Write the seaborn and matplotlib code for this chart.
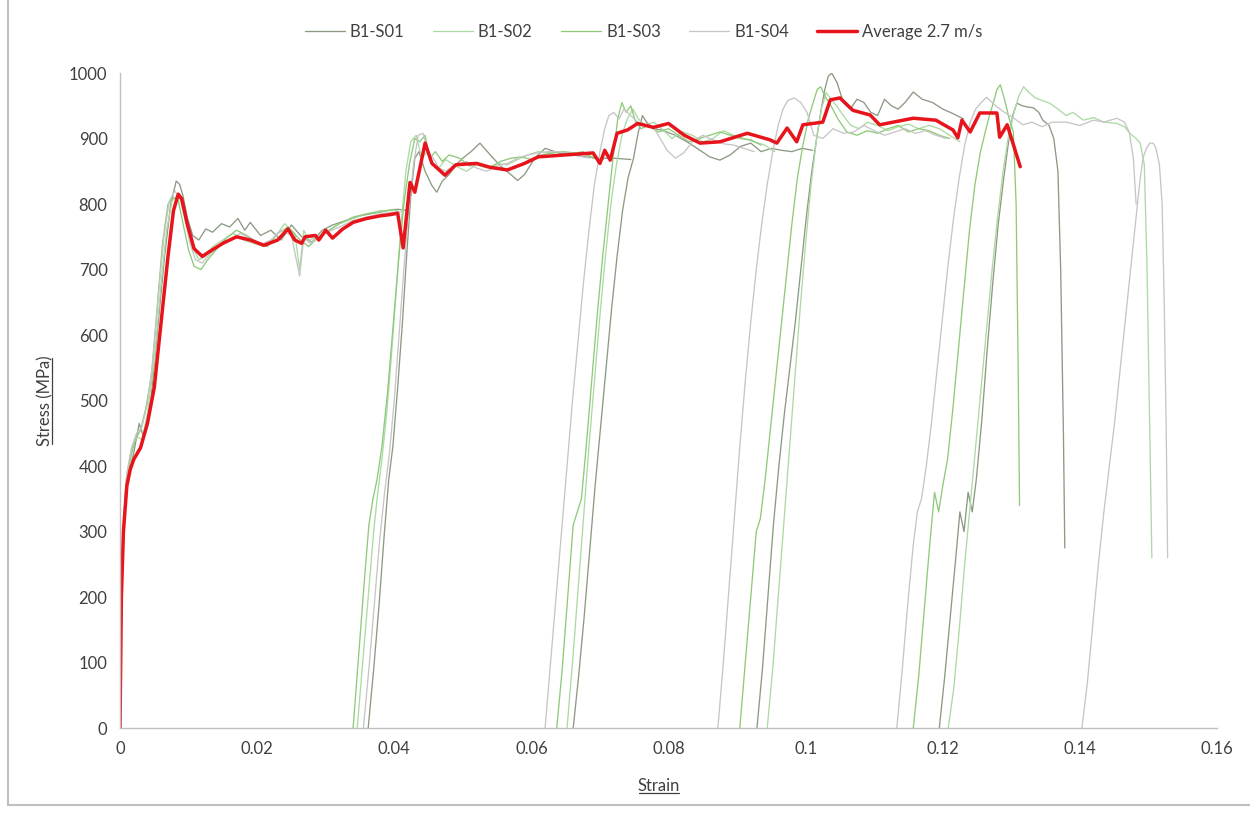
"""Interrupted dynamic tensile tests, batch B1: stress-strain curves at 2.7 m/s."""

import matplotlib

matplotlib.use("Agg")

import matplotlib.pyplot as plt
import seaborn as sns
from matplotlib.lines import Line2D

# ---------------------------------------------------------------- data
# Each specimen is loaded in several increments; every increment is one
# (strain, stress [MPa]) segment.
S01_SEGMENTS = [
    ([0, 0.0003, 0.001, 0.002, 0.0028, 0.0034, 0.0045, 0.0055, 0.0065, 0.0074, 0.0082, 0.0087,
      0.0092, 0.0098, 0.0106, 0.0115, 0.0125, 0.0135, 0.0148, 0.016, 0.0172, 0.0182, 0.019,
      0.0205, 0.022, 0.0235, 0.025, 0.0265, 0.028, 0.0295, 0.031, 0.033, 0.035, 0.037, 0.039,
      0.0405, 0.042],
     [0, 260, 375, 420, 465, 445, 500, 610, 720, 800, 835, 830, 812, 780, 752, 745, 762, 757,
      770, 765, 778, 760, 772, 752, 760, 745, 768, 750, 742, 760, 768, 775, 782, 786, 790, 792,
      790]),
    ([0.0362, 0.037, 0.0378, 0.0385, 0.0392, 0.0398, 0.0405, 0.0412, 0.0418, 0.0424, 0.043,
      0.0436, 0.0445, 0.0455, 0.0462, 0.047, 0.048, 0.049, 0.05, 0.0512, 0.0525, 0.054, 0.0555,
      0.057, 0.058, 0.059, 0.0605, 0.062, 0.064, 0.066, 0.068, 0.07, 0.072, 0.0745],
     [0, 90, 190, 290, 380, 430, 520, 620, 720, 810, 870, 880, 850, 828, 818, 835, 845, 860, 870,
      880, 893, 875, 858, 845, 836, 845, 870, 885, 878, 875, 872, 870, 870, 868]),
    ([0.0661, 0.0669, 0.0677, 0.0685, 0.0693, 0.0701, 0.0709, 0.0717, 0.0725, 0.0733, 0.0741,
      0.0749, 0.0756, 0.0762, 0.0768, 0.0778, 0.079, 0.081, 0.083, 0.0846, 0.086, 0.0875, 0.089,
      0.0905, 0.092, 0.0935, 0.095, 0.0965, 0.098, 0.0995, 0.101],
     [0, 80, 170, 270, 370, 460, 550, 640, 720, 790, 840, 870, 910, 935, 925, 915, 913, 905, 893,
      882, 872, 867, 875, 888, 893, 880, 885, 882, 880, 885, 882]),
    ([0.0929, 0.0937, 0.0945, 0.0953, 0.0961, 0.0969, 0.0977, 0.0985, 0.0993, 0.1001, 0.1009,
      0.1016, 0.1022, 0.1028, 0.1033, 0.1038, 0.1046, 0.1055, 0.1065, 0.1075, 0.1085, 0.1095,
      0.1105, 0.1115, 0.1125, 0.1135, 0.1145, 0.1157, 0.117, 0.1185, 0.12, 0.1215, 0.123],
     [0, 90, 200, 310, 400, 480, 550, 620, 700, 780, 850, 900, 940, 975, 995, 1000, 985, 955, 945,
      960, 955, 940, 935, 960, 950, 945, 955, 971, 960, 955, 945, 938, 930]),
    ([0.1195, 0.1203, 0.1211, 0.1219, 0.1225, 0.1231, 0.1237, 0.1243, 0.1249, 0.1257, 0.1265,
      0.1273, 0.1281, 0.1289, 0.1296, 0.1302, 0.1308, 0.1316, 0.1324, 0.1332, 0.134, 0.1346,
      0.1355, 0.1362, 0.1368, 0.1372, 0.1376, 0.1378],
     [0, 80, 170, 260, 330, 300, 360, 330, 380, 470, 580, 680, 770, 840, 895, 935, 954, 950, 948,
      947, 940, 928, 920, 900, 850, 700, 450, 275]),
]

S02_SEGMENTS = [
    ([0, 0.0004, 0.001, 0.0018, 0.0025, 0.0032, 0.004, 0.005, 0.006, 0.0068, 0.0076, 0.0083,
      0.009, 0.0097, 0.0105, 0.0115, 0.0125, 0.0135, 0.015, 0.0165, 0.018, 0.0195, 0.021, 0.0225,
      0.024, 0.0255, 0.0262, 0.0268, 0.0275, 0.029, 0.0305, 0.032, 0.034, 0.036, 0.038, 0.0405],
     [0, 300, 390, 430, 445, 440, 480, 560, 680, 760, 805, 812, 805, 770, 735, 715, 720, 735, 745,
      755, 745, 740, 735, 748, 770, 755, 700, 760, 745, 750, 760, 770, 778, 785, 790, 790]),
    ([0.0346, 0.0354, 0.0362, 0.037, 0.0376, 0.0382, 0.0389, 0.0396, 0.0403, 0.041, 0.0417,
      0.0424, 0.0432, 0.044, 0.0448, 0.0456, 0.0465, 0.0475, 0.049, 0.0505, 0.052, 0.0535,
      0.055, 0.0565, 0.058, 0.0595, 0.061, 0.063, 0.065, 0.067, 0.069],
     [0, 100, 200, 300, 360, 410, 480, 570, 670, 770, 850, 895, 905, 870, 880, 862, 855, 868, 858,
      850, 860, 855, 862, 860, 868, 875, 880, 878, 880, 877, 872]),
    ([0.0652, 0.066, 0.0668, 0.0676, 0.0684, 0.0692, 0.07, 0.0708, 0.0716, 0.0724, 0.0732,
      0.074, 0.0748, 0.0756, 0.0766, 0.0778, 0.079, 0.0805, 0.082, 0.0835, 0.085, 0.0865, 0.088,
      0.0895, 0.091, 0.0925, 0.094, 0.0955],
     [0, 100, 210, 320, 430, 530, 630, 720, 800, 860, 905, 930, 945, 930, 920, 925, 915, 900, 910,
      905, 895, 900, 912, 905, 900, 895, 890, 880]),
    ([0.0944, 0.0952, 0.096, 0.0968, 0.0976, 0.0984, 0.0992, 0.1, 0.1008, 0.1016, 0.1023,
      0.103, 0.1037, 0.1045, 0.1055, 0.1066, 0.1078, 0.109, 0.1105, 0.112, 0.1135, 0.115, 0.1165,
      0.118, 0.1195, 0.121, 0.1225],
     [0, 90, 200, 310, 420, 530, 640, 740, 830, 900, 945, 970, 960, 950, 935, 920, 915, 925, 920,
      912, 918, 922, 915, 920, 915, 905, 895]),
    ([0.1208, 0.1216, 0.1224, 0.1232, 0.124, 0.1248, 0.1256, 0.1264, 0.1272, 0.128, 0.1288,
      0.1296, 0.1304, 0.1311, 0.1318, 0.1326, 0.1335, 0.1345, 0.1356, 0.1368, 0.138, 0.139,
      0.1405, 0.142, 0.1435, 0.1454, 0.1465, 0.1473, 0.1482, 0.1488, 0.1494, 0.1498, 0.1502,
      0.1505],
     [0, 60, 150, 250, 340, 430, 520, 610, 700, 780, 850, 905, 940, 965, 979, 970, 962, 958, 954,
      945, 935, 940, 928, 932, 925, 923, 918, 908, 900, 893, 860, 700, 450, 260]),
]

S03_SEGMENTS = [
    ([0, 0.0003, 0.0008, 0.0015, 0.0022, 0.003, 0.0038, 0.0046, 0.0054, 0.0062, 0.007, 0.0078,
      0.0085, 0.0092, 0.01, 0.0108, 0.0118, 0.0128, 0.014, 0.0155, 0.017, 0.0185, 0.02, 0.0215,
      0.023, 0.0245, 0.026, 0.0275, 0.029, 0.0305, 0.032, 0.034, 0.036, 0.038, 0.04],
     [0, 240, 355, 410, 440, 455, 490, 540, 640, 740, 800, 810, 805, 770, 730, 705, 700, 715, 730,
      748, 760, 752, 742, 735, 755, 765, 748, 735, 750, 760, 770, 780, 785, 788, 792]),
    ([0.034, 0.0348, 0.0356, 0.0363, 0.0369, 0.0375, 0.0382, 0.039, 0.0398, 0.0406, 0.0414,
      0.0422, 0.043, 0.0437, 0.0445, 0.0452, 0.046, 0.047, 0.048, 0.0495, 0.051, 0.0525, 0.054,
      0.0555, 0.057, 0.0585, 0.06, 0.0615, 0.063, 0.0645, 0.066, 0.0675, 0.069, 0.0705],
     [0, 110, 220, 310, 350, 380, 430, 510, 610, 710, 800, 860, 900, 895, 905, 870, 880, 865, 875,
      870, 858, 862, 855, 865, 870, 872, 868, 875, 878, 880, 877, 880, 870, 868]),
    ([0.0637, 0.0645, 0.0653, 0.0661, 0.0667, 0.0673, 0.068, 0.0688, 0.0696, 0.0704, 0.0712,
      0.0719, 0.0726, 0.0732, 0.0738, 0.0745, 0.0752, 0.076, 0.077, 0.0785, 0.08, 0.0815, 0.083,
      0.0845, 0.086, 0.0875, 0.089, 0.0905, 0.092, 0.0935],
     [0, 90, 200, 310, 330, 350, 430, 530, 630, 720, 800, 870, 930, 955, 940, 950, 925, 915, 920,
      910, 915, 905, 895, 900, 905, 910, 905, 900, 898, 890]),
    ([0.0904, 0.0912, 0.092, 0.0928, 0.0934, 0.0941, 0.0948, 0.0956, 0.0964, 0.0972, 0.098,
      0.0988, 0.0996, 0.1004, 0.1011, 0.1017, 0.1022, 0.1028, 0.1037, 0.1047, 0.106, 0.1075,
      0.109, 0.1105, 0.112, 0.1135, 0.115, 0.1165, 0.118, 0.1195, 0.121],
     [0, 100, 200, 300, 320, 380, 450, 530, 610, 690, 770, 840, 890, 930, 955, 975, 979, 965, 950,
      930, 910, 905, 912, 908, 915, 920, 910, 915, 912, 905, 900]),
    ([0.1157, 0.1165, 0.1173, 0.1181, 0.1188, 0.1194, 0.12, 0.1207, 0.1215, 0.1223, 0.1231,
      0.1239, 0.1247, 0.1255, 0.1262, 0.1268, 0.1274, 0.1279, 0.1284, 0.129, 0.1297, 0.1303,
      0.1307, 0.131, 0.1312],
     [0, 80, 180, 280, 360, 330, 370, 410, 490, 580, 670, 760, 830, 880, 910, 935, 955, 975, 982,
      960, 930, 910, 800, 550, 340]),
]

S04_SEGMENTS = [
    ([0, 0.0003, 0.0009, 0.0016, 0.0024, 0.0032, 0.004, 0.0048, 0.0056, 0.0064, 0.0072, 0.008,
      0.0087, 0.0094, 0.0102, 0.011, 0.012, 0.013, 0.0145, 0.016, 0.0175, 0.019, 0.0205, 0.022,
      0.0235, 0.025, 0.0262, 0.0268, 0.0278, 0.029, 0.0305, 0.032, 0.034, 0.036, 0.038, 0.0395,
      0.041],
     [0, 270, 380, 425, 450, 460, 495, 560, 660, 750, 805, 820, 810, 780, 740, 715, 710, 722, 738,
      745, 755, 748, 738, 745, 760, 752, 690, 748, 740, 752, 758, 765, 775, 780, 785, 787, 788]),
    ([0.0355, 0.0363, 0.0371, 0.0379, 0.0386, 0.0393, 0.04, 0.0407, 0.0414, 0.0421, 0.0428,
      0.0435, 0.0442, 0.0449, 0.0457, 0.0465, 0.0475, 0.049, 0.0505, 0.052, 0.0535, 0.055,
      0.0565, 0.058, 0.0595, 0.061, 0.0625, 0.064, 0.0655, 0.067, 0.0685],
     [0, 90, 190, 290, 360, 420, 500, 600, 700, 790, 860, 905, 908, 880, 870, 855, 850, 860, 865,
      855, 850, 858, 862, 870, 875, 878, 880, 880, 877, 873, 870]),
    ([0.062, 0.0628, 0.0636, 0.0644, 0.0652, 0.066, 0.0668, 0.0676, 0.0684, 0.0692, 0.07,
      0.0707, 0.0713, 0.072, 0.0728, 0.0735, 0.0745, 0.0755, 0.0767, 0.0778, 0.0788, 0.0798,
      0.081, 0.0822, 0.0835, 0.085, 0.0865, 0.088, 0.0895, 0.091, 0.0925],
     [0, 100, 200, 300, 400, 500, 590, 680, 760, 830, 880, 915, 935, 940, 930, 945, 935, 925, 920,
      917, 900, 882, 870, 878, 895, 905, 898, 892, 890, 885, 880]),
    ([0.0872, 0.088, 0.0888, 0.0896, 0.0904, 0.0912, 0.092, 0.0928, 0.0936, 0.0944, 0.0952,
      0.096, 0.0967, 0.0974, 0.0983, 0.0993, 0.1002, 0.1012, 0.1025, 0.104, 0.1055, 0.107,
      0.1085, 0.11, 0.1115, 0.113, 0.1145, 0.116, 0.1175, 0.119, 0.1205],
     [0, 100, 210, 320, 430, 530, 620, 700, 770, 830, 880, 920, 945, 958, 962, 955, 940, 905, 900,
      915, 908, 910, 920, 912, 905, 910, 915, 908, 912, 905, 900]),
    ([0.1133, 0.1141, 0.1149, 0.1157, 0.1163, 0.1169, 0.1176, 0.1184, 0.1192, 0.12, 0.1208,
      0.1216, 0.1224, 0.1232, 0.124, 0.1248, 0.1256, 0.1264, 0.1277, 0.129, 0.1305, 0.1317,
      0.133, 0.1345, 0.136, 0.138, 0.14, 0.142, 0.1435, 0.1454, 0.1465, 0.1472, 0.1478, 0.1482],
     [0, 90, 190, 280, 330, 350, 400, 470, 550, 630, 710, 780, 840, 890, 925, 945, 955, 963, 950,
      940, 930, 921, 925, 918, 925, 925, 920, 928, 925, 931, 925, 910, 870, 800]),
    ([0.1403, 0.1411, 0.1419, 0.1427, 0.1435, 0.1443, 0.1451, 0.1459, 0.1467, 0.1474, 0.1481,
      0.1487, 0.1492, 0.1497, 0.1502, 0.1507, 0.1511, 0.1516, 0.152, 0.1523, 0.1526, 0.1528],
     [0, 70, 160, 250, 330, 400, 470, 550, 630, 700, 770, 830, 870, 885, 893, 893, 885, 860, 800,
      650, 450, 260]),
]

AVG_STRAIN = [
    0, 0.0002, 0.0005, 0.001, 0.0015, 0.002, 0.003, 0.004, 0.005, 0.006, 0.007, 0.0078, 0.0085,
    0.009, 0.0098, 0.0108, 0.012, 0.013, 0.015, 0.017, 0.019, 0.021, 0.023, 0.0245, 0.0255,
    0.0265, 0.027, 0.0285, 0.029, 0.03, 0.031, 0.0325, 0.034, 0.036, 0.038, 0.0395, 0.0405,
    0.0413, 0.0423, 0.043, 0.0445, 0.0455, 0.0474, 0.049, 0.052, 0.054, 0.0565, 0.059, 0.061,
    0.065, 0.069, 0.07, 0.0707, 0.0715, 0.0725, 0.074, 0.0755, 0.0778, 0.08, 0.0823, 0.0846,
    0.0875, 0.0915, 0.0948, 0.0958, 0.0973, 0.0987, 0.0996, 0.1025, 0.1036, 0.105, 0.1069,
    0.1094, 0.1108, 0.1157, 0.119, 0.1215, 0.1222, 0.1228, 0.124, 0.1254, 0.1279, 0.1283,
    0.1294, 0.1313,
]
AVG_STRESS = [
    0, 200, 300, 370, 395, 410, 428, 465, 520, 620, 720, 790, 815, 808, 770, 732, 720, 727, 740,
    750, 745, 737, 745, 762, 745, 740, 750, 752, 745, 760, 748, 762, 772, 778, 782, 784, 786,
    733, 833, 818, 893, 862, 844, 860, 862, 856, 852, 862, 872, 875, 878, 862, 882, 867, 908,
    913, 923, 917, 923, 905, 893, 895, 908, 898, 893, 916, 895, 921, 925, 959, 962, 943, 936,
    921, 931, 928, 913, 901, 928, 910, 939, 939, 902, 921, 857,
]

SPECIMENS = ["B1-S01", "B1-S02", "B1-S03", "B1-S04"]
SPECIMEN_COLORS = ["#8c9a84", "#acdaa4", "#8fca7a", "#c6c6c6"]
AVG_LABEL = "Average 2.7 m/s"
AVG_COLOR = "#e8141c"

X_TICKS = [0, 0.02, 0.04, 0.06, 0.08, 0.1, 0.12, 0.14, 0.16]
Y_TICKS = list(range(0, 1001, 100))


def underline(fig, text, vertical=False):
    """Draw an underline below (or, for rotated text, beside) a text artist."""
    renderer = fig.canvas.get_renderer()
    bb = text.get_window_extent(renderer).transformed(fig.transFigure.inverted())
    if vertical:
        x = bb.x1 - 0.0005
        fig.add_artist(Line2D([x, x], [bb.y0 + 0.003, bb.y1 - 0.003],
                              color="#404040", lw=0.9, transform=fig.transFigure))
    else:
        y = bb.y0 + 0.001
        fig.add_artist(Line2D([bb.x0 + 0.001, bb.x1 - 0.001], [y, y],
                              color="#404040", lw=0.9, transform=fig.transFigure))


def main() -> None:
    sns.set_theme(style="white")
    plt.rcParams["font.family"] = ["Lato", "DejaVu Sans"]

    fig = plt.figure(figsize=(12.5, 8.15), dpi=100)
    ax = fig.add_axes([0.096, 0.1067, 0.8776, 0.8037])

    specimen_sets = [S01_SEGMENTS, S02_SEGMENTS, S03_SEGMENTS, S04_SEGMENTS]
    for name, color, segments in zip(SPECIMENS, SPECIMEN_COLORS, specimen_sets):
        for i, (strain, stress) in enumerate(segments):
            sns.lineplot(x=strain, y=stress, sort=False, estimator=None, color=color,
                         linewidth=0.95, label=name if i == 0 else None, ax=ax)

    sns.lineplot(x=AVG_STRAIN, y=AVG_STRESS, sort=False, estimator=None, color=AVG_COLOR,
                 linewidth=2.5, label=AVG_LABEL, ax=ax)

    ax.set_xlim(0, 0.16)
    ax.set_ylim(0, 1000)
    ax.set_xticks(X_TICKS)
    ax.set_xticklabels([f"{v:g}" for v in X_TICKS])
    ax.set_yticks(Y_TICKS)
    ax.tick_params(axis="both", length=0, labelsize=12, colors="#404040", pad=9)
    for side in ("top", "right"):
        ax.spines[side].set_visible(False)
    for side in ("left", "bottom"):
        ax.spines[side].set_color("#bfbfbf")
        ax.spines[side].set_linewidth(1.0)

    ax.set_xlabel("")
    ax.set_ylabel("")
    xlab = fig.text(0.527, 0.036, "Strain", ha="center", va="center", fontsize=12,
                    color="#404040")
    ylab = fig.text(0.036, 0.508, "Stress (MPa)", ha="center", va="center", rotation=90,
                    fontsize=12, color="#404040")

    handles, labels = ax.get_legend_handles_labels()
    ax.legend(handles, labels, loc="center", bbox_to_anchor=(0.515, 0.961),
              bbox_transform=fig.transFigure, ncol=5, frameon=False, fontsize=12,
              handlelength=2.4, handletextpad=0.3, columnspacing=1.7,
              labelcolor="#404040")

    # chart-area border (left and bottom edges visible in the source)
    fig.add_artist(Line2D([0.0065, 0.0065], [0.012, 1.0], color="#bfbfbf", lw=1.5,
                          transform=fig.transFigure))
    fig.add_artist(Line2D([0.0065, 1.0], [0.012, 0.012], color="#bfbfbf", lw=1.5,
                          transform=fig.transFigure))

    fig.canvas.draw()
    underline(fig, xlab)
    underline(fig, ylab, vertical=True)

    fig.savefig("out.png", dpi=100, facecolor="white")
    plt.close(fig)


if __name__ == "__main__":
    main()
